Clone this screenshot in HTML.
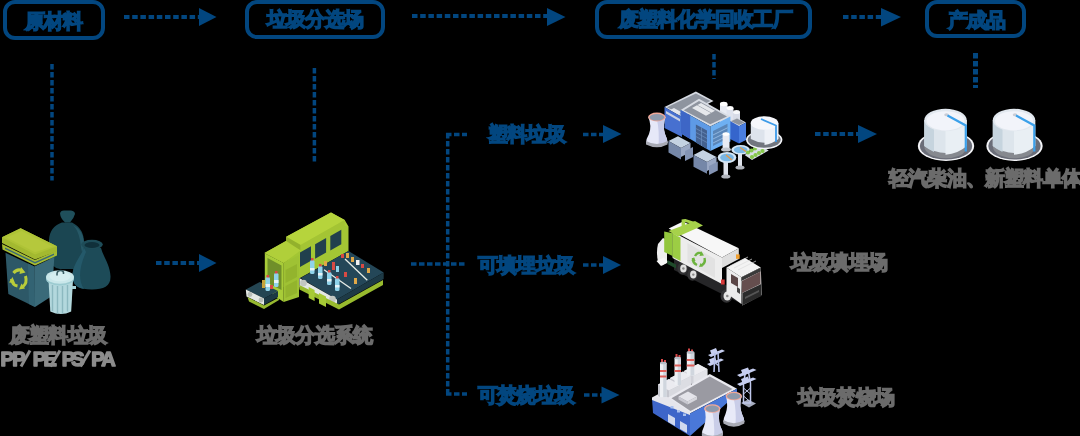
<!DOCTYPE html>
<html><head><meta charset="utf-8">
<style>
html,body{margin:0;padding:0;width:1080px;height:436px;overflow:hidden;background:#000;}
body{position:relative;font-family:"Liberation Sans",sans-serif;}
.box{position:absolute;box-sizing:border-box;border:4px solid #02467f;border-radius:12px;}
.t{position:absolute;will-change:transform;font-weight:bold;white-space:nowrap;font-size:19.5px;line-height:22px;letter-spacing:-0.8px;-webkit-text-stroke:1.4px currentColor;}
.blue{color:#02467f;}
.gray{color:#6b6b6b;}
svg{position:absolute;left:0;top:0;}
</style></head><body>
<svg width="1080" height="436" viewBox="0 0 1080 436">
<g stroke="#02467f" stroke-width="3.5" fill="none">
<g stroke-dasharray="5.5 2.7" stroke-width="3.8">
<path d="M124 17H200"/>
<path d="M412 16H548"/>
<path d="M843 17H882"/>
<path d="M156 263H200"/>
<path d="M815 134H859"/>
</g>
<g stroke-dasharray="5.5 2.5">
<path d="M52 64V180.5"/>
<path d="M314.4 68V164"/>
<path d="M714 54V79"/>
<path d="M975.5 53V88" stroke-width="5"/>
<path d="M411 264H467"/>
<path d="M447.7 133V396"/>
<path d="M446 134.5H467"/>
<path d="M446 394H467"/>
<path d="M583 134.5H603"/>
<path d="M583 265H603"/>
<path d="M584 395H602"/>
</g>
</g>
<g fill="#02467f">
<path d="M199 8L216.5 17L199 26Z"/>
<path d="M547 8L565.5 17L547 26Z"/>
<path d="M881 8L901 17L881 26.5Z"/>
<path d="M199 254L216.5 263L199 272Z"/>
<path d="M603 125L621.5 134L603 143Z"/>
<path d="M603 256L621 265L603 274Z"/>
<path d="M601.5 386.5L619.5 395L601.5 403.5Z"/>
<path d="M858 125L877 134L858 143Z"/>
</g>
<g id="trash">
<!-- tall bag -->
<path d="M62 222.5 Q49.5 227 49 240 L48.8 258 Q50 267 60 269 L80 269 Q84.5 262 84 245 Q85 229 72 222.5 Z" fill="#1b4652"/>
<path d="M73 225 Q83 230 84 242 L83.5 258 Q81 250 80 240 Q78 230 73 225 Z" fill="#265866"/>
<path d="M60 213.5 Q60.5 210.5 64 210.5 L71 210.5 Q75 211 75 214 Q74 218 70 222.5 L65 222.5 Q60.5 218.5 60 213.5 Z" fill="#1f4f5b"/>
<!-- round bag -->
<path d="M84 248 C81 256 73 264 72.5 275 C72 285 79 289.5 92 289.5 C104 289.5 111 286 110.5 276 C110 265 103 256 101 248 Z" fill="#1d4b58"/>
<path d="M84 248 C81 256 73 264 72.5 275 C72 284 77 288 84 289 C78 280 79 268 86 252 Z" fill="#24596a"/>
<ellipse cx="92" cy="244.6" rx="10.8" ry="4.8" fill="#1e4c58"/>
<ellipse cx="92" cy="245" rx="7.5" ry="3" fill="#10303a"/>
<!-- bin body -->
<path d="M5.5 252.8 L34.4 266.5 L35 307 L8.3 294 Z" fill="#2d5867"/>
<path d="M28 263.5 L34.4 266.5 L35 307 L29 304 Z" fill="#336373"/>
<path d="M34.4 266.5 L54.3 256.9 L52 296 L35 307 Z" fill="#3a6a79"/>
<!-- recycle symbol -->
<g fill="none" stroke="#b9cc3a" stroke-width="3">
<path d="M13.5 273 Q17 268.5 22 270.5"/>
<path d="M25.5 276 Q27.5 283 23 286.5"/>
<path d="M17.5 286 Q12 285 11.5 279"/>
</g>
<g fill="#b9cc3a"><path d="M21 267 L25.5 272.5 L19.5 274Z"/><path d="M25 288.5 L19 289.5 L21.5 283.5Z"/><path d="M9 282.5 L12.5 277 L15 283Z"/></g>
<!-- lid lower rim -->
<path d="M2 244 L35 260 L57 250.5 L57 255.5 L35 265.5 L2.5 249.5 Z" fill="#a6bc32"/>
<path d="M5 247.5 L35 262 L54 253.5 L54 255 L35 263.5 L5 249 Z" fill="#3a6877"/>
<!-- lid -->
<path d="M2 237.3 L20.6 228.2 L57 246.3 L57 251.3 L35 259.5 L2 243 Z" fill="#a3b930"/>
<path d="M2 237.3 L20.6 228.2 L57 246.3 L35 254.5 Z" fill="#aec336"/>
<path d="M6.5 237.5 L21.5 231 L52.5 246.5 L35 252.3 Z" fill="#b5c83c"/>
<!-- metal can -->
<path d="M48.5 280 L73 280 L71.2 311.5 Q61 316.5 50.3 311.5 Z" fill="#b3d8dd"/>
<g stroke="#8cb9c0" stroke-width="1.4"><path d="M52.5 285V311"/><path d="M57.5 286V313.5"/><path d="M62.5 286V313.5"/><path d="M67.5 285V311.5"/></g>
<ellipse cx="60" cy="279" rx="14" ry="6.5" fill="#9ccbd1"/>
<ellipse cx="60" cy="277" rx="14" ry="6.8" fill="#c9e7ea"/>
<ellipse cx="60" cy="276.5" rx="10.5" ry="4.8" fill="#d6eef0"/>
<path d="M57 275.5 Q56.5 270.5 60.5 270.5 Q64 270.5 63.5 274" fill="none" stroke="#3a5c63" stroke-width="1.6"/>
<rect x="72" y="286" width="4" height="3" fill="#a5d0d6"/>
</g>

<g id="conveyor">
<!-- housing roof -->
<path d="M264.5 253 L286.2 240.8 L286.2 236.7 L331 212.6 L344.7 220 L348.5 226.4 L304 251 L283.7 263 Z" fill="#a9cb36"/>
<path d="M286.2 236.7 L331 212.6 L344.7 220 L300.7 245 Z" fill="#b6d43c"/>
<path d="M286.2 236.7 L300.7 245 L300.7 250.5 L286.2 242.9 Z" fill="#93b12c"/>
<path d="M300.7 245 L344.7 220 L344.7 225.7 L300.7 250.5 Z" fill="#a4c434"/>
<path d="M264.5 253 L286.2 241 L300.7 250.5 L283.7 263 Z" fill="#b0cf3a"/>
<!-- housing front face -->
<path d="M283.7 263 L300.7 250.5 L344.7 225.7 L348.5 226.4 L348.5 251 L300 278 L283.7 287 Z" fill="#a3c634"/>
<path d="M300 252.5 L311 246.3 L311 260.8 L300 267 Z" fill="#21404d"/>
<path d="M315.1 244.3 L326.1 238 L326.1 252.5 L315.1 258.8 Z" fill="#21404d"/>
<path d="M330.3 236 L341.3 229.8 L341.3 244.3 L330.3 250.5 Z" fill="#21404d"/>
<!-- left opening face -->
<path d="M264.8 253.2 L283.7 263.1 L283.7 302 L264.8 289.5 Z" fill="#a8cc38"/>
<path d="M267.5 258 L281.5 265.5 L281.5 290 L267.5 283 Z" fill="#6f8f2a"/>
<!-- left belt -->
<path d="M245.8 289.5 L259.8 282 L278 291 L264 298.6 Z" fill="#244552"/>
<path d="M245.8 289.5 L264 298.6 L264 305 L246.5 296.5 Z" fill="#e4e8e4"/>
<circle cx="250" cy="294.5" r="2.4" fill="#b8bdb8"/><circle cx="261" cy="300" r="2.4" fill="#b8bdb8"/>
<path d="M264 298.6 L278 291 L278 297 L264 305 Z" fill="#1c3844"/>
<path d="M247.5 297 L264 305.5 L279 297.5 L279 300 L264 309 L249 301.5 Z" fill="#97b930"/>
<!-- bottles left -->
<rect x="262" y="280" width="3" height="8" fill="#c8a23c"/>
<rect x="265.5" y="277" width="4.5" height="14" rx="1.5" fill="#8fd3ea"/><rect x="265.5" y="284" width="4.5" height="3" fill="#e8f4f8"/>
<rect x="274" y="273" width="4.5" height="14" rx="1.5" fill="#8fd3ea"/><rect x="274" y="280" width="4.5" height="3" fill="#e8f4f8"/>
<rect x="266.5" y="275" width="2.5" height="2.5" fill="#d84a44"/><rect x="275" y="271" width="2.5" height="2.5" fill="#d84a44"/>
<rect x="270" y="285" width="3" height="4" fill="#d84a44"/>
<!-- front pillar -->
<path d="M283.7 263 L299 255 L299 297 L283.7 302 Z" fill="#9fc234"/>
<path d="M285.5 270 L297 264 L297 277 L285.5 283 Z" fill="#93b42d"/>
<path d="M285.5 286 L297 280 L297 293 L285.5 298 Z" fill="#93b42d"/>
<!-- right belt -->
<path d="M300.5 278 L348.5 251 L383.7 272.5 L337 299.5 Z" fill="#244758"/>
<path d="M299.4 278 L337 299.5 L337 304 L299.4 287.3 Z" fill="#e3e8e3"/>
<circle cx="303.5" cy="283" r="3.3" fill="#c2c7c2"/><circle cx="332.5" cy="299" r="3.3" fill="#c2c7c2"/>
<path d="M337 299.5 L383.7 272.5 L383.7 279 L337 305 Z" fill="#1d3a46"/>
<g stroke="#e7ede7" stroke-width="1.3"><path d="M324 269.7 L351 288.5"/><path d="M345 259 L367.3 280.3"/></g>
<path d="M299.4 289.6 L339 309.5 L383 285 L383 280 L339 304.5 L299.4 285 Z" fill="#98bb2e"/>
<path d="M308.7 287 L314.6 290 L314.6 301 L308.7 298 Z" fill="#a6ca36"/>
<path d="M319 293 L326 296.5 L326 307 L319 303.5 Z" fill="#a6ca36"/>
<!-- bottles right -->
<g fill="#8fd3ea">
<rect x="310" y="260" width="4.5" height="14" rx="1.5"/><rect x="318" y="266" width="4.5" height="13" rx="1.5"/>
<rect x="327" y="272" width="4.5" height="13" rx="1.5"/><rect x="335" y="278" width="4.5" height="13" rx="1.5"/>
<rect x="336" y="266" width="3" height="6"/>
</g>
<g fill="#e8f4f8"><rect x="310" y="268" width="4.5" height="2.5"/><rect x="318" y="273" width="4.5" height="2.5"/><rect x="327" y="279" width="4.5" height="2.5"/><rect x="335" y="285" width="4.5" height="2.5"/></g>
<g fill="#d84a44"><rect x="311" y="258" width="2.5" height="2.5"/><rect x="319" y="264" width="2.5" height="2.5"/><rect x="328" y="270" width="2.5" height="2.5"/><rect x="336" y="276" width="2.5" height="2.5"/>
<rect x="341" y="254" width="3" height="4"/><rect x="361" y="264" width="3" height="4"/><rect x="344" y="272" width="3" height="5"/><rect x="332" y="262" width="3" height="8"/></g>
<g fill="#e0a848"><rect x="346" y="253" width="3" height="5"/><rect x="351" y="257" width="3" height="5"/><rect x="367" y="268" width="3" height="5"/><rect x="354" y="278" width="3" height="6"/><rect x="324" y="261" width="3" height="5"/></g>
<g fill="#f0f0f0"><rect x="356" y="260" width="3.5" height="5"/></g>
</g>

<g id="factory">
<!-- rear building -->
<path d="M664.5 107 L695.9 91.6 L713.5 101 L682 117 Z" fill="#d6dae2"/>
<path d="M667 107.3 L695.9 93.6 L710.5 101 L682 115 Z" fill="#8e949f"/>
<g fill="#e3e6ec"><path d="M670 110 L674 108 L682 112.5 L678 114.5Z"/></g>
<path d="M664.5 107 L682 117 L682 137 L664.5 128 Z" fill="#4770d0"/>
<path d="M666 111 L680 119 L680 121.5 L666 113.5Z" fill="#c8d0e4"/>
<!-- silos -->
<rect x="720" y="104" width="7.5" height="20" fill="#e8ebf3"/><ellipse cx="723.7" cy="104" rx="3.8" ry="2.2" fill="#ffffff"/>
<rect x="726.5" y="108" width="7" height="20" fill="#dfe3ee"/><ellipse cx="730" cy="108" rx="3.5" ry="2" fill="#ffffff"/>
<rect x="733" y="112" width="7" height="18" fill="#d8dce8"/><ellipse cx="736.5" cy="112" rx="3.5" ry="2" fill="#f7f8fb"/>
<!-- right annex -->
<path d="M730 121 L737 117.5 L746 122.5 L739 126 Z" fill="#d4d8e0"/>
<path d="M731 121.3 L737 118.5 L744.5 122.5 L739 125 Z" fill="#8e949f"/>
<path d="M739 126 L746 122.5 L746 140 L739 143.5 Z" fill="#4a7ee0"/>
<path d="M730 121 L739 126 L739 143.5 L730 139 Z" fill="#3565cc"/>
<!-- main building roof -->
<path d="M680.6 110 L699 98.8 L730.4 116.5 L710.3 126.5 Z" fill="#d8dce4"/>
<path d="M683.8 110.2 L699 101 L727 116.5 L710.3 124.3 Z" fill="#8e949f"/>
<g fill="#e6e8ec"><path d="M692 108 L697 105.3 L711 113 L706 115.7Z"/><path d="M697.5 105 L701 103 L715 110.7 L711.5 112.7Z"/></g>
<!-- main building left face -->
<path d="M680.6 110 L710.3 126.5 L710.3 151 L680.6 133.3 Z" fill="#5e9ae6"/>
<path d="M680.6 110 L690.2 115.3 L690.2 139 L680.6 133.3 Z" fill="#3d66c6"/>
<path d="M695.9 124.5 L707 130.5 L707 149 L695.9 142.5 Z" fill="#44618f"/>
<g stroke="#6f90c0" stroke-width="0.7"><path d="M695.9 128.5L707 134.5"/><path d="M695.9 132.5L707 138.5"/><path d="M695.9 136.5L707 142.5"/><path d="M701.5 127.5V146"/></g>
<!-- main building right face -->
<path d="M710.3 126.5 L730.4 116.5 L730.4 141.4 L710.3 151 Z" fill="#6eb0f2"/>
<path d="M713 131 L727.5 123.8 L727.5 138.5 L713 146 Z" fill="#5a86b8"/>
<g stroke="#a8ccf0" stroke-width="0.7"><path d="M713 135L727.5 127.8"/><path d="M713 139L727.5 131.8"/><path d="M713 143L727.5 135.8"/></g>
<!-- cooling tower -->
<path d="M648.3 117 Q652 126 649 134 Q646 139 646 143 Q657 149 667.5 143 Q667.5 139 665 134 Q662.5 126 665.5 117 Z" fill="#e6e8f8"/>
<path d="M657 120 Q659.5 130 658.5 147 Q663.5 146 667.5 143 Q667.5 139 665 134 Q662.5 126 665.5 117 Z" fill="#c8cce8"/>
<path d="M646 141 Q657 147 667.5 141 L667.5 144.5 Q657 150 646 144.5 Z" fill="#a8aab4"/>
<ellipse cx="656.9" cy="117" rx="8.8" ry="4.4" fill="#f0a898"/>
<ellipse cx="656.9" cy="117.3" rx="7.3" ry="3.3" fill="#8e9aac"/>
<!-- annex A -->
<path d="M668.5 141 L678 136.3 L690.5 143 L681 148 Z" fill="#c4d2e2"/>
<path d="M668.5 141 L681 148 L681 159.5 L668.5 152.5 Z" fill="#7587a8"/>
<path d="M681 148 L690.5 143 L690.5 152 L681 157 Z" fill="#9aa8c4"/>
<path d="M685 151 L693 147 L693 157 L685 161 Z" fill="#8494b4"/>
<!-- annex B -->
<path d="M693.5 155 L703 150 L716.5 157 L707 162 Z" fill="#c4d2e2"/>
<path d="M693.5 155 L707 162 L707 173.8 L693.5 166.8 Z" fill="#7587a8"/>
<path d="M707 162 L716.5 157 L716.5 166 L707 171 Z" fill="#9aa8c4"/>
<path d="M709 166 L717.8 161.5 L717.8 170.5 L709 175 Z" fill="#8494b4"/>
<!-- pillar & legs -->
<rect x="722.6" y="134" width="6.9" height="15" fill="#e8ebf3"/><ellipse cx="726" cy="134" rx="3.45" ry="1.8" fill="#ffffff"/>
<ellipse cx="726" cy="149.5" rx="5" ry="2" fill="#c0c4cc"/>
<rect x="723.5" y="161" width="4.5" height="15" fill="#dfe3ec"/><ellipse cx="725.8" cy="176.5" rx="4.5" ry="2" fill="#b0b4bc"/>
<rect x="738" y="154" width="4" height="13" fill="#dfe3ec"/><ellipse cx="740" cy="167.5" rx="4.5" ry="2" fill="#b0b4bc"/>
<!-- clarifiers -->
<ellipse cx="727" cy="157.5" rx="9.3" ry="5.5" fill="#d4e6f6"/><ellipse cx="727" cy="157.5" rx="6.8" ry="3.8" fill="#7ab6e4"/>
<ellipse cx="740.6" cy="149.8" rx="9.3" ry="4.8" fill="#d4e6f6"/><ellipse cx="740.6" cy="149.8" rx="6.8" ry="3.3" fill="#7ab6e4"/>
<path d="M726 155 L732 160" stroke="#e39a4a" stroke-width="1.4"/><path d="M740 147.5 L746 151.5" stroke="#e39a4a" stroke-width="1.4"/>
<!-- plants -->
<path d="M744.6 155 L761 145.6 L768.7 150.5 L752 160 Z" fill="#d8dfe6"/>
<g fill="#86c84c"><circle cx="748" cy="152.5" r="2.1"/><circle cx="751.5" cy="150.5" r="2.1"/><circle cx="755" cy="148.5" r="2.1"/><circle cx="758.5" cy="146.5" r="2.1"/>
<circle cx="752" cy="157" r="2.1"/><circle cx="755.5" cy="155" r="2.1"/><circle cx="759" cy="153" r="2.1"/><circle cx="762.5" cy="151" r="2.1"/></g>
<!-- right tank -->
<ellipse cx="764.2" cy="139.8" rx="18.2" ry="9.3" fill="#f2f4f8"/>
<ellipse cx="764.2" cy="139.8" rx="16.5" ry="8" fill="#72767f"/>
<path d="M750.8 123 L750.8 139 Q764.5 146.5 778.3 139 L778.3 123 Z" fill="#dde3ec"/>
<path d="M764.5 130 L764.5 145 Q772 144 778.3 139 L778.3 123 Z" fill="#eef1f7"/>
<ellipse cx="764.5" cy="123" rx="13.8" ry="6.8" fill="#f6f7fb"/>
<path d="M761 119 L776 125.5 L776 142" fill="none" stroke="#3d9be8" stroke-width="1.8"/>
</g>

<g id="tanks">
<g id="tank1">
<ellipse cx="946" cy="146" rx="28.2" ry="15" fill="#f4f5f8"/>
<ellipse cx="946" cy="146" rx="26.2" ry="13.5" fill="#6a6d78"/>
<path d="M924.3 146 Q945.5 159 966.7 146 Q966.7 152 960 155.5 Q946 161 932 155.5 Q924.3 152 924.3 146Z" fill="#86898f"/>
<path d="M924.3 120 L924.3 146 Q945.5 160 966.7 146 L966.7 120 Z" fill="#dde5ec"/>
<path d="M924.3 120 L924.3 146 Q928.5 149.5 934 152 L934 124 Z" fill="#c6d4de"/>
<path d="M945.5 125 L945.5 154.8 Q958.5 153.5 966.7 146 L966.7 120 Z" fill="#e9eff4"/>
<ellipse cx="945.5" cy="120" rx="21.2" ry="11.2" fill="#e2e8ef"/>
<ellipse cx="945.5" cy="120.8" rx="19" ry="9.6" fill="#f2f4fa"/>
<ellipse cx="946.5" cy="114.8" rx="2.2" ry="1.5" fill="#c8ccd6"/>
<path d="M947.5 115.5 L965.8 125.5 L965.8 151.5" fill="none" stroke="#3ba0ea" stroke-width="2.2"/>
</g>
<g transform="translate(68.5 0)"><g>
<ellipse cx="946" cy="146" rx="28.2" ry="15" fill="#f4f5f8"/>
<ellipse cx="946" cy="146" rx="26.2" ry="13.5" fill="#6a6d78"/>
<path d="M924.3 146 Q945.5 159 966.7 146 Q966.7 152 960 155.5 Q946 161 932 155.5 Q924.3 152 924.3 146Z" fill="#86898f"/>
<path d="M924.3 120 L924.3 146 Q945.5 160 966.7 146 L966.7 120 Z" fill="#dde5ec"/>
<path d="M924.3 120 L924.3 146 Q928.5 149.5 934 152 L934 124 Z" fill="#c6d4de"/>
<path d="M945.5 125 L945.5 154.8 Q958.5 153.5 966.7 146 L966.7 120 Z" fill="#e9eff4"/>
<ellipse cx="945.5" cy="120" rx="21.2" ry="11.2" fill="#e2e8ef"/>
<ellipse cx="945.5" cy="120.8" rx="19" ry="9.6" fill="#f2f4fa"/>
<ellipse cx="946.5" cy="114.8" rx="2.2" ry="1.5" fill="#c8ccd6"/>
<path d="M947.5 115.5 L965.8 125.5 L965.8 151.5" fill="none" stroke="#3ba0ea" stroke-width="2.2"/>
</g></g>
</g>

<g id="truck">
<!-- chassis -->
<path d="M674 258 L726 285 L742 294 L742 304 L726 296 L674 270 Z" fill="#262628"/>
<!-- wheels -->
<ellipse cx="682.6" cy="268.5" rx="5.2" ry="6.2" fill="#333335"/><ellipse cx="683.4" cy="268.5" rx="3.2" ry="4" fill="#e0e0e0"/><circle cx="683.4" cy="268.5" r="1.2" fill="#888"/>
<ellipse cx="692.5" cy="274.6" rx="5.2" ry="6.2" fill="#333335"/><ellipse cx="693.3" cy="274.6" rx="3.2" ry="4" fill="#e0e0e0"/><circle cx="693.3" cy="274.6" r="1.2" fill="#888"/>
<ellipse cx="726.5" cy="296" rx="6" ry="6.8" fill="#333335"/><ellipse cx="727.3" cy="296" rx="3.8" ry="4.5" fill="#e4e4e4"/><circle cx="727.3" cy="296" r="1.3" fill="#888"/>
<!-- rear mechanism -->
<path d="M658 244 Q656 252 658 262 L662 265.5 L667 263 L667 240 L663 238 Z" fill="#eeeeee"/>
<path d="M656.5 261 L664 257.5 L668 262 L661 266 Z" fill="#f6f6f6"/>
<path d="M667.4 260 L676 264.5 L676 268.5 L667.4 264 Z" fill="#1f4a2a"/>
<!-- white body -->
<path d="M668.7 228.5 L683 221.5 L738.8 248.2 L722 257.5 Z" fill="#f7f7f7"/>
<path d="M672.6 232 L722 257.5 L722 284 L672.6 258 Z" fill="#ededed"/>
<path d="M687.5 243 L715 259 L715 278 L687.5 262 Z" fill="#e2e2e2"/>
<path d="M722 257.5 L738.8 248.2 L738.8 259 L722 268 Z" fill="#dedede"/>
<!-- green parts -->
<path d="M664.2 231.4 L672.6 233.3 L672.6 256 L664.2 252 Z" fill="#92c63c"/>
<path d="M668.5 231 L695 221 L703 225.5 L678 236.5 Z" fill="#a6d24a"/>
<path d="M672.6 233 L678 236.5 L680.5 237.5 L680.5 261 L672.6 257 Z" fill="#9ccd44"/>
<path d="M681.6 219.5 L685.4 219 L696.3 222.5 L696.3 225 L685 222 L685 227 L681.6 227 Z" fill="#a6d24a"/>
<!-- recycle symbol -->
<g fill="none" stroke="#6cb33e" stroke-width="2.4"><path d="M695 256 Q698 251 702 254"/><path d="M704.5 258 Q706 263.5 701 265.5"/><path d="M697 265 Q692.5 263 693 258"/></g>
<g fill="#6cb33e"><path d="M701 251 L704 255.5 L699.5 256Z"/><path d="M703 266.5 L699 267 L700.5 263Z"/><path d="M691.5 261 L694 257 L695.5 261Z"/></g>
<!-- red light -->
<rect x="721" y="279.5" width="3.7" height="5" fill="#d83a3a"/>
<rect x="736" y="254.4" width="3.7" height="4.4" fill="#f0a030"/>
<!-- cab -->
<path d="M726.5 267.6 L745 258 L760.8 267.6 L741.4 277.3 Z" fill="#f3f3f3"/>
<g stroke="#dcdcdc" stroke-width="0.7"><path d="M730 266L748 257"/><path d="M734 268L752 259"/><path d="M738 270L756 261"/></g>
<path d="M726.5 267.6 L741.4 277.3 L741.4 304 L726.5 293.2 Z" fill="#ececec"/>
<path d="M741.4 277.3 L760.8 267.6 L761.7 295 L742.3 305.5 Z" fill="#f2f2f2"/>
<path d="M741.4 277.3 L760.8 267.6 L760.8 271.5 L741.4 281 Z" fill="#3a3a3a"/>
<path d="M742 281 L760.5 271.5 L760.5 284 L742 293 Z" fill="#654e4e"/>
<path d="M742.3 293 L761.2 284 L761.5 296 L742.3 305.5 Z" fill="#2a2a2a"/>
<path d="M745 297 L759 290 L759 292 L745 299Z" fill="#555"/>
<path d="M731 274 L738 278 L738 287 L731 283 Z" fill="#5a4646"/>
<path d="M737 287 L740 289 L740 294 L737 292Z" fill="#444"/>
</g>

<g id="incin">
<!-- pylon 1 -->
<g fill="#c6cef0">
<path d="M708 355 L722 349.5 L725 351 L711 357 Z"/>
<path d="M710 350.5 L716 348 L718 353 L712 355.5Z"/>
<path d="M707 364 L721 358.5 L724 360 L710 366 Z"/>
<path d="M709 359.5 L715 357 L717 362 L711 364.5Z"/>
</g>
<path d="M715 353 L714 372 M718 352 L719 372 M714 362 L719 366" stroke="#b4bee6" stroke-width="1.6" fill="none"/>
<!-- pylon 2 -->
<path d="M741 403 L748 399.5 L756 403.5 L749 407.5 Z" fill="#a6acbe"/>
<path d="M743.5 383 L745.5 372 L748.5 372 L750.5 383 L750.5 403 L743.5 403 Z" fill="none" stroke="#c0c8ec" stroke-width="1.5"/>
<path d="M743.5 388 L750.5 394 M750.5 388 L743.5 394 M743.5 396 L750.5 402" stroke="#c0c8ec" stroke-width="1" fill="none"/>
<g fill="#c6cef0">
<path d="M737 375 L753 368.5 L756.5 370 L740 377 Z"/>
<path d="M741 370 L748 367.5 L750 373 L743 375.5Z"/>
<path d="M737 384 L753 377.5 L756.5 379 L740 386 Z"/>
<path d="M741 379 L748 376.5 L750 382 L743 384.5Z"/>
</g>
<!-- left low platform -->
<path d="M652 397.5 L668 389 L684 397 L668 405.5 Z" fill="#ececf0"/>
<!-- blocks under chimneys -->
<path d="M684 371 L698 364 L707.4 369 L707.4 378 L693.5 385 L684 380 Z" fill="#d0d1d8"/>
<path d="M684 371 L698 364 L707.4 369 L693.5 376 Z" fill="#ededf1"/>
<path d="M693.5 376 L707.4 369 L707.4 378 L693.5 385Z" fill="#e2e3e8"/>
<path d="M670 378 L683 371.5 L691 376 L691 388 L678 394.5 L670 390 Z" fill="#c8c9d0"/>
<path d="M670 378 L683 371.5 L691 376 L678 382.5 Z" fill="#ebebf0"/>
<path d="M678 382.5 L691 376 L691 388 L678 394.5Z" fill="#dcdde3"/>
<path d="M658 384.5 L669 379 L680 385 L680 396 L669 401.5 L658 396 Z" fill="#c5c6ce"/>
<path d="M658 384.5 L669 379 L680 385 L669 390.5 Z" fill="#ebebf0"/>
<path d="M669 390.5 L680 385 L680 396 L669 401.5Z" fill="#d8d9df"/>
<!-- chimneys -->
<g>
<rect x="660" y="363" width="6.5" height="39" fill="#eef0f4"/><rect x="663.2" y="363" width="3.3" height="39" fill="#d0d6de"/>
<rect x="660" y="370" width="6.5" height="2" fill="#e0605a"/><rect x="660" y="375.5" width="6.5" height="2" fill="#e0605a"/>
<rect x="661" y="359" width="2" height="4" fill="#d84848"/><rect x="664" y="360" width="2" height="3.5" fill="#d84848"/>
<ellipse cx="663.2" cy="363" rx="3.3" ry="1.3" fill="#b8bec8"/>
</g>
<g>
<rect x="674.5" y="358" width="6.5" height="27" fill="#eef0f4"/><rect x="677.7" y="358" width="3.3" height="27" fill="#d0d6de"/>
<rect x="674.5" y="364.5" width="6.5" height="2" fill="#e0605a"/><rect x="674.5" y="370" width="6.5" height="2" fill="#e0605a"/>
<rect x="675.5" y="354" width="2" height="4" fill="#d84848"/><rect x="678.5" y="355" width="2" height="3.5" fill="#d84848"/>
<ellipse cx="677.7" cy="358" rx="3.3" ry="1.3" fill="#b8bec8"/>
</g>
<g>
<rect x="686.8" y="352.5" width="7.5" height="23" fill="#eef0f4"/><rect x="690.5" y="352.5" width="3.8" height="23" fill="#d0d6de"/>
<rect x="686.8" y="359" width="7.5" height="2" fill="#e0605a"/><rect x="686.8" y="364.5" width="7.5" height="2" fill="#e0605a"/>
<rect x="688" y="348.5" width="2" height="4" fill="#d84848"/><rect x="691" y="349.5" width="2" height="3.5" fill="#d84848"/>
<ellipse cx="690.5" cy="352.5" rx="3.8" ry="1.4" fill="#b8bec8"/>
</g>
<!-- main roof -->
<path d="M667.3 398 L709.8 373.9 L737 388.8 L690 413.5 Z" fill="#eaeaf0"/>
<path d="M671.5 398.2 L709.8 376.5 L732.5 389 L690.5 411 Z" fill="#9a9aa2"/>
<path d="M678.5 396.5 L688 391.5 L697 396.5 L687.5 401.5 Z" fill="#e4e4ea"/>
<path d="M678.5 396.5 L687.5 401.5 L687.5 404.5 L678.5 399.5Z" fill="#c8c8d0"/>
<path d="M687.5 401.5 L697 396.5 L697 399.5 L687.5 404.5Z" fill="#d6d6dc"/>
<!-- left wall -->
<path d="M652 398 L667.3 398 L690 413.5 L690 436 L653 413 Z" fill="#3d65c9"/>
<path d="M652 397.5 L667.3 397 L690 412 L690 415 L652 400Z" fill="#e6e6ec"/>
<g fill="#a9c0ee"><rect x="670.5" y="406" width="3" height="2.5"/><rect x="677" y="410" width="3" height="2.5"/><rect x="683" y="413.5" width="3" height="2.5"/></g>
<path d="M668 414 L675 418 L675 426 L668 422Z M680 421 L687 425 L687 433 L680 429Z" fill="#d0d8ee"/>
<!-- right wall -->
<path d="M690 413.5 L737 388.8 L737 394 L690 436 Z" fill="#4a78d8"/>
<!-- cooling towers -->
<g id="ct2">
<path d="M726 396 Q728.5 406 725.5 414 Q723.4 418 723.4 422 Q733.8 428.5 744.3 422 Q744.3 418 742 414 Q739 406 741.6 396 Z" fill="#e8eaf8"/>
<path d="M733.8 399 Q736.5 410 735.5 426 Q740.5 425 744.3 422 Q744.3 418 742 414 Q739 406 741.6 396 Z" fill="#c9cde8"/>
<path d="M723.4 420 Q733.8 426.5 744.3 420 L744.3 423.5 Q733.8 430 723.4 423.5 Z" fill="#a9abb5"/>
<ellipse cx="733.8" cy="396" rx="8.2" ry="4.3" fill="#f0a898"/>
<ellipse cx="733.8" cy="396.3" rx="6.7" ry="3.2" fill="#8e9aac"/>
</g>
<g transform="translate(-21.5 12.5)"><g>
<path d="M726 396 Q728.5 406 725.5 414 Q723.4 418 723.4 422 Q733.8 428.5 744.3 422 Q744.3 418 742 414 Q739 406 741.6 396 Z" fill="#e8eaf8"/>
<path d="M733.8 399 Q736.5 410 735.5 426 Q740.5 425 744.3 422 Q744.3 418 742 414 Q739 406 741.6 396 Z" fill="#c9cde8"/>
<path d="M723.4 420 Q733.8 426.5 744.3 420 L744.3 423.5 Q733.8 430 723.4 423.5 Z" fill="#a9abb5"/>
<ellipse cx="733.8" cy="396" rx="8.2" ry="4.3" fill="#f0a898"/>
<ellipse cx="733.8" cy="396.3" rx="6.7" ry="3.2" fill="#8e9aac"/>
</g></g>
</g>


</svg>
<div class="box" style="left:3px;top:0px;width:102px;height:40px;"></div>
<div class="box" style="left:245px;top:0px;width:140px;height:39px;"></div>
<div class="box" style="left:595px;top:0px;width:217px;height:39px;"></div>
<div class="box" style="left:925px;top:0px;width:101px;height:38px;"></div>

<div class="t blue" style="left:25px;top:10px;">原材料</div>
<div class="t blue" style="left:267px;top:8px;">垃圾分选场</div>
<div class="t blue" style="left:619px;top:8px;">废塑料化学回收工厂</div>
<div class="t blue" style="left:948px;top:9px;">产成品</div>

<div class="t blue" style="left:488px;top:123px;">塑料垃圾</div>
<div class="t blue" style="left:478px;top:254px;">可填埋垃圾</div>
<div class="t blue" style="left:478px;top:384px;">可焚烧垃圾</div>

<div class="t gray" style="left:10px;top:324px;">废塑料垃圾</div>
<svg width="1080" height="436" style="position:absolute;left:0;top:0;will-change:transform;"><g font-family="Liberation Sans" font-weight="bold" font-size="20" fill="#8c8c8c" stroke="#8c8c8c" stroke-width="1.5" stroke-linejoin="round">
<text x="0.6" y="365.5">P</text><text x="12.3" y="365.5">P</text>
<text x="32.8" y="365.5">P</text><text x="43.4" y="365.5">E</text>
<text x="61.7" y="365.5">P</text><text x="71.2" y="365.5">S</text>
<text x="91.2" y="365.5">P</text><text x="101.2" y="365.5">A</text>
</g><g stroke="#8c8c8c" stroke-width="3" stroke-linecap="butt"><path d="M21 366.5L30 350.5"/><path d="M50.5 366.5L60 350.5"/><path d="M80.5 366.5L90 350.5"/></g></svg>
<div class="t gray" style="left:257px;top:324px;">垃圾分选系统</div>
<div class="t gray" style="left:889px;top:167px;">轻汽柴油、新塑料单体</div>
<div class="t gray" style="left:791px;top:251px;">垃圾填埋场</div>
<div class="t gray" style="left:798px;top:386px;">垃圾焚烧场</div>
</body></html>
